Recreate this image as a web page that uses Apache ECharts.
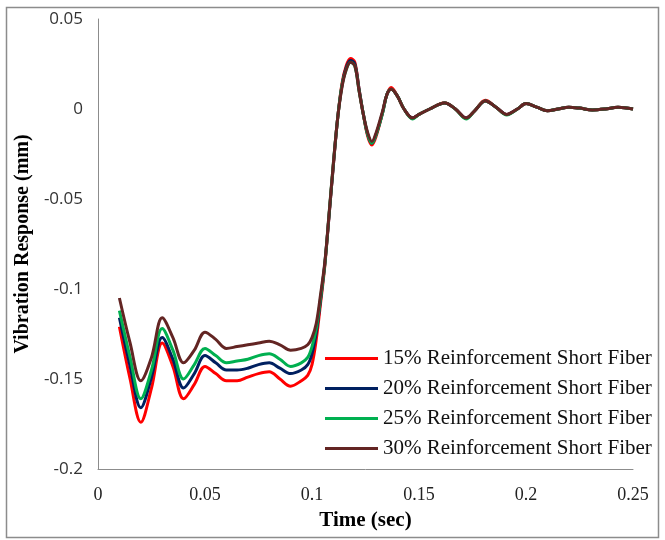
<!DOCTYPE html>
<html>
<head>
<meta charset="utf-8">
<script src="https://cdn.jsdelivr.net/npm/echarts@6/dist/echarts.min.js"></script>
<style>
  html, body { margin: 0; padding: 0; background: #fff; }
  #chart { width: 665px; height: 540px; }
</style>
</head>
<body>
<div id="chart"></div>
<script>
// Time samples (sec)
const time = [
  0.010, 0.015, 0.020, 0.025, 0.030, 0.035, 0.040, 0.045, 0.050, 0.055,
  0.060, 0.065, 0.070, 0.075, 0.080, 0.085, 0.090, 0.095, 0.098, 0.100,
  0.102, 0.104, 0.106, 0.108, 0.110, 0.112, 0.114, 0.116, 0.118, 0.120,
  0.122, 0.124, 0.126, 0.128, 0.130, 0.133, 0.135, 0.137, 0.140, 0.143,
  0.147, 0.150, 0.155, 0.162, 0.167, 0.172, 0.176, 0.181, 0.186, 0.191,
  0.196, 0.200, 0.205, 0.210, 0.215, 0.220, 0.225, 0.231, 0.237, 0.243,
  0.250
];

// Vibration response (mm) for each fibre fraction
const fiber15 = [
  -0.121, -0.150, -0.174, -0.155, -0.130, -0.143, -0.161, -0.153, -0.143, -0.147,
  -0.151, -0.151, -0.149, -0.147, -0.146, -0.150, -0.154, -0.151, -0.148, -0.142,
  -0.128, -0.108, -0.087, -0.059, -0.031, -0.005, 0.014, 0.024, 0.028, 0.026,
  0.011, -0.003, -0.015, -0.020, -0.015, -0.002, 0.008, 0.012, 0.007, 0.000,
  -0.005, -0.003, 0.000, 0.0035, 0.000, -0.005, -0.001, 0.0048, 0.001, -0.003,
  0.000, 0.003, 0.001, -0.001, 0.000, 0.001, 0.0005, -0.0005, 0.000, 0.001,
  0.000
];
const fiber20 = [
  -0.116, -0.143, -0.166, -0.149, -0.127, -0.139, -0.155, -0.147, -0.137, -0.141,
  -0.145, -0.145, -0.144, -0.142, -0.141, -0.144, -0.147, -0.145, -0.142, -0.136,
  -0.124, -0.106, -0.086, -0.059, -0.031, -0.005, 0.013, 0.023, 0.027, 0.025,
  0.011, -0.003, -0.014, -0.019, -0.014, -0.002, 0.008, 0.011, 0.007, 0.000,
  -0.005, -0.003, 0.000, 0.0033, 0.000, -0.005, -0.001, 0.0045, 0.001, -0.003,
  0.000, 0.003, 0.001, -0.001, 0.000, 0.001, 0.0005, -0.0005, 0.000, 0.001,
  0.000
];
const fiber25 = [
  -0.112, -0.138, -0.161, -0.145, -0.122, -0.134, -0.150, -0.142, -0.133, -0.137,
  -0.141, -0.140, -0.139, -0.137, -0.136, -0.139, -0.143, -0.141, -0.138, -0.132,
  -0.122, -0.105, -0.086, -0.058, -0.030, -0.005, 0.013, 0.022, 0.026, 0.024,
  0.010, -0.003, -0.014, -0.019, -0.014, -0.002, 0.008, 0.011, 0.007, 0.000,
  -0.0055, -0.003, 0.000, 0.0033, 0.000, -0.0055, -0.001, 0.0045, 0.001, -0.0033,
  0.000, 0.003, 0.001, -0.001, 0.000, 0.001, 0.0005, -0.0005, 0.000, 0.001,
  0.000
];
const fiber30 = [
  -0.105, -0.130, -0.151, -0.138, -0.116, -0.127, -0.141, -0.134, -0.124, -0.128,
  -0.133, -0.132, -0.131, -0.130, -0.129, -0.131, -0.134, -0.133, -0.131, -0.127,
  -0.119, -0.103, -0.085, -0.058, -0.030, -0.005, 0.012, 0.022, 0.026, 0.024,
  0.010, -0.003, -0.013, -0.018, -0.013, -0.001, 0.008, 0.011, 0.007, 0.000,
  -0.005, -0.003, 0.000, 0.0033, 0.000, -0.005, -0.001, 0.0045, 0.001, -0.003,
  0.000, 0.003, 0.001, -0.001, 0.000, 0.001, 0.0005, -0.0005, 0.000, 0.001,
  0.000
];

// Axis tick labels
const xTicks = ['0', '0.05', '0.1', '0.15', '0.2', '0.25'];
const yTicks = ['-0.2', '-0.15', '-0.1', '-0.05', '0', '0.05'];

const seriesNames = [
  '15% Reinforcement Short Fiber',
  '20% Reinforcement Short Fiber',
  '25% Reinforcement Short Fiber',
  '30% Reinforcement Short Fiber'
];
const seriesData = [fiber15, fiber20, fiber25, fiber30];
const seriesColors = ['#ff0000', '#002060', '#00b050', '#632523'];

const pair = (ys) => time.map((t, i) => [t, ys[i]]);

const chart = echarts.init(document.getElementById('chart'), null, { renderer: 'canvas' });

const axisLineStyle = { show: true, onZero: false, lineStyle: { color: '#8c8c8c', width: 1 } };

chart.setOption({
  animation: false,
  backgroundColor: '#ffffff',
  grid: { left: 98, right: 32, top: 19, bottom: 71, containLabel: false },
  xAxis: {
    type: 'value',
    min: 0, max: 0.25, interval: 0.05,
    name: 'Time (sec)',
    nameLocation: 'middle',
    nameGap: 41,
    nameTextStyle: { fontFamily: 'Liberation Serif', fontWeight: 'bold', fontSize: 21, color: '#000' },
    axisLine: axisLineStyle,
    axisTick: { show: false },
    splitLine: { show: false },
    axisLabel: {
      margin: 17,
      fontFamily: 'Liberation Serif', fontSize: 18, color: '#222',
      formatter: (v) => xTicks[Math.round(v / 0.05)]
    }
  },
  yAxis: {
    type: 'value',
    min: -0.2, max: 0.05, interval: 0.05,
    name: 'Vibration Response (mm)',
    nameLocation: 'middle',
    nameGap: 65,
    nameTextStyle: { fontFamily: 'Liberation Serif', fontWeight: 'bold', fontSize: 20, color: '#000' },
    axisLine: axisLineStyle,
    axisTick: { show: false },
    splitLine: { show: false },
    axisLabel: {
      margin: 15,
      fontFamily: 'Open Sans', fontSize: 17, color: '#333',
      formatter: (v) => yTicks[Math.round((v + 0.2) / 0.05)]
    }
  },
  legend: {
    left: 320,
    top: 343,
    orient: 'vertical',
    itemWidth: 53,
    itemHeight: 3,
    itemGap: 9,
    icon: 'rect',
    textStyle: { fontFamily: 'Liberation Serif', fontSize: 21, lineHeight: 21, color: '#111' },
    data: seriesNames
  },
  graphic: [{
    type: 'rect',
    shape: { x: 6.5, y: 7.5, width: 652, height: 530 },
    style: { fill: 'none', stroke: '#8c8c8c', lineWidth: 1.5 },
    silent: true
  }],
  series: seriesNames.map((name, i) => ({
    name,
    type: 'line',
    data: pair(seriesData[i]),
    smooth: 0.35,
    showSymbol: false,
    symbol: 'none',
    color: seriesColors[i],
    lineStyle: { width: 3, color: seriesColors[i] }
  }))
});
</script>
</body>
</html>
